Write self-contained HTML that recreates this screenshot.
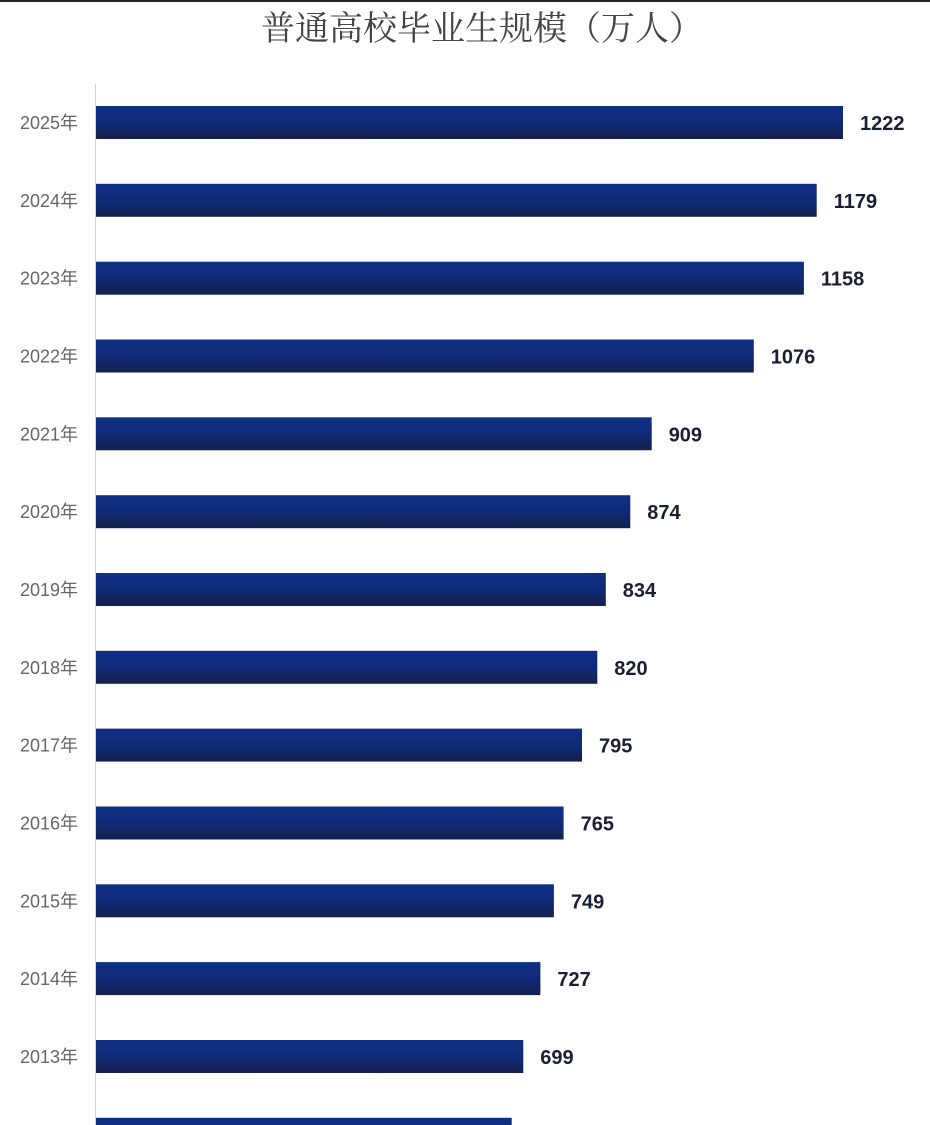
<!DOCTYPE html>
<html><head><meta charset="utf-8"><style>
html,body{margin:0;padding:0;background:#fff;}
svg{display:block;}
</style></head><body>
<svg width="930" height="1125" viewBox="0 0 930 1125" xmlns="http://www.w3.org/2000/svg">
<defs>
<linearGradient id="g" x1="0" y1="0" x2="0" y2="1">
<stop offset="0" stop-color="#0f3086"/>
<stop offset="0.5" stop-color="#102a78"/>
<stop offset="1" stop-color="#15214c"/>
</linearGradient>
</defs>
<rect x="0" y="0" width="930" height="2" fill="#222"/>
<text x="482" y="40" text-anchor="middle" font-family="'Noto Serif CJK SC','Noto Sans CJK SC',serif" font-size="34" fill="#444">普通高校毕业生规模（万人）</text>
<line x1="95.5" y1="84" x2="95.5" y2="1125" stroke="#d0d0d0" stroke-width="1"/>
<g fill="url(#g)">
<rect x="96" y="106" width="747" height="33"/>
<rect x="96" y="183.8" width="720.7" height="33"/>
<rect x="96" y="261.7" width="707.9" height="33"/>
<rect x="96" y="339.5" width="657.8" height="33"/>
<rect x="96" y="417.3" width="555.7" height="33"/>
<rect x="96" y="495.2" width="534.3" height="33"/>
<rect x="96" y="573" width="509.8" height="33"/>
<rect x="96" y="650.8" width="501.3" height="33"/>
<rect x="96" y="728.6" width="486" height="33"/>
<rect x="96" y="806.5" width="467.6" height="33"/>
<rect x="96" y="884.3" width="457.9" height="33"/>
<rect x="96" y="962.1" width="444.4" height="33"/>
<rect x="96" y="1040" width="427.3" height="33"/>
<rect x="96" y="1117.8" width="415.7" height="33"/>
</g>
<g font-family="'Liberation Sans','Noto Sans CJK SC',sans-serif" font-size="18" fill="#666" text-anchor="end">
<text x="78" y="129">2025年</text>
<text x="78" y="206.8">2024年</text>
<text x="78" y="284.7">2023年</text>
<text x="78" y="362.5">2022年</text>
<text x="78" y="440.3">2021年</text>
<text x="78" y="518.2">2020年</text>
<text x="78" y="596">2019年</text>
<text x="78" y="673.8">2018年</text>
<text x="78" y="751.6">2017年</text>
<text x="78" y="829.5">2016年</text>
<text x="78" y="907.3">2015年</text>
<text x="78" y="985.1">2014年</text>
<text x="78" y="1063">2013年</text>
</g>
<g font-family="'Liberation Sans',sans-serif" font-size="20" font-weight="bold" fill="#1a1f33">
<text x="860" y="130">1222</text>
<text x="833.7" y="207.8">1179</text>
<text x="820.9" y="285.7">1158</text>
<text x="770.8" y="363.5">1076</text>
<text x="668.7" y="441.3">909</text>
<text x="647.3" y="519.2">874</text>
<text x="622.8" y="597">834</text>
<text x="614.3" y="674.8">820</text>
<text x="599" y="752.6">795</text>
<text x="580.6" y="830.5">765</text>
<text x="570.9" y="908.3">749</text>
<text x="557.4" y="986.1">727</text>
<text x="540.3" y="1064">699</text>
</g>
</svg>
</body></html>
